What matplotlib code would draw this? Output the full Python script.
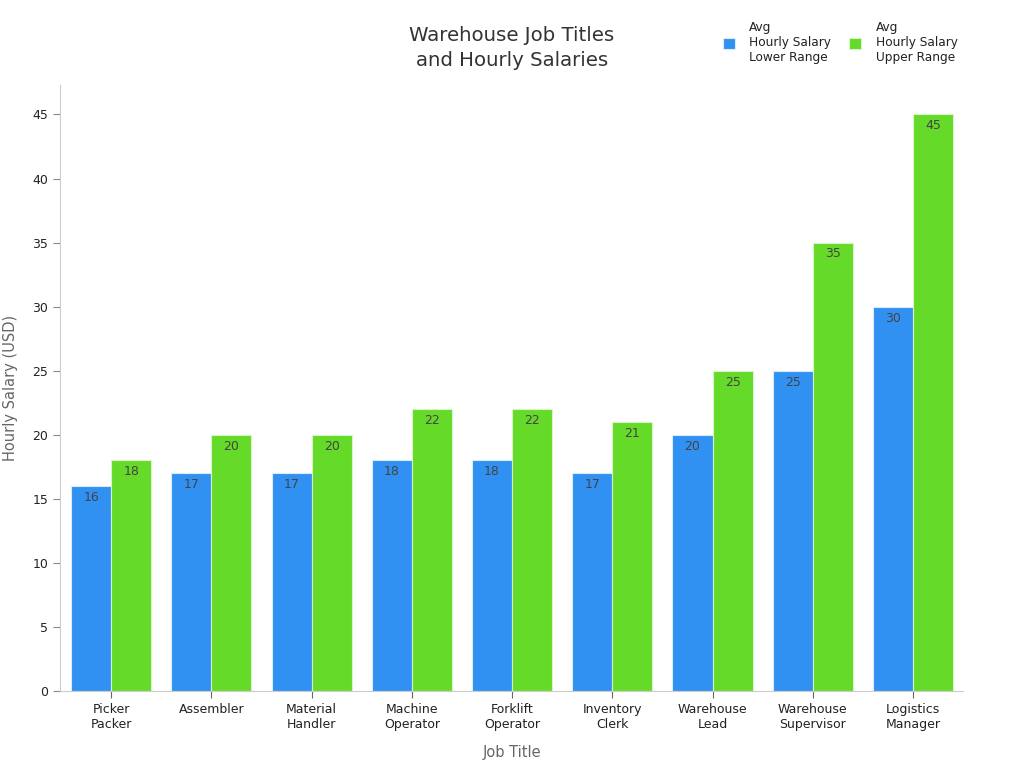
import matplotlib.pyplot as plt
import numpy as np

plt.rcParams['font.family'] = ['DejaVu Sans']

jobs = ['Picker\nPacker', 'Assembler', 'Material\nHandler', 'Machine\nOperator',
        'Forklift\nOperator', 'Inventory\nClerk', 'Warehouse\nLead',
        'Warehouse\nSupervisor', 'Logistics\nManager']
lower = [16, 17, 17, 18, 18, 17, 20, 25, 30]
upper = [18, 20, 20, 22, 22, 21, 25, 35, 45]
yticks = [0, 5, 10, 15, 20, 25, 30, 35, 40, 45]

blue = '#3091F2'
green = '#66DA28'

fig = plt.figure(figsize=(10.24, 7.68), dpi=100)
ax = fig.add_axes([0.0586, 0.1003, 0.882, 0.789])

x = np.arange(len(jobs))
w = 0.4
b1 = ax.bar(x - w / 2, lower, w, color=blue, edgecolor='#d8ecfa', linewidth=0.8,
            label='Avg\nHourly Salary\nLower Range')
b2 = ax.bar(x + w / 2, upper, w, color=green, edgecolor='#d8f5c8', linewidth=0.8,
            label='Avg\nHourly Salary\nUpper Range')

for bars, vals in [(b1, lower), (b2, upper)]:
    for r, v in zip(bars, vals):
        ax.annotate(str(v), (r.get_x() + r.get_width() / 2, v), xytext=(0, -3.5),
                    textcoords='offset points', ha='center', va='top',
                    fontsize=9, color='#444444')

ax.set_xlim(-0.51, 8.5)
ax.set_ylim(0, 47.3)
ax.set_xticks(x)
ax.set_xticklabels(jobs, fontsize=9, color='#222222')
ax.set_yticks(yticks)
ax.tick_params(axis='y', labelsize=9, labelcolor='#222222', color='#888888', length=5)
ax.tick_params(axis='x', color='#666666', length=5)

for s in ['top', 'right']:
    ax.spines[s].set_visible(False)
ax.spines['left'].set_color('#cccccc')
ax.spines['bottom'].set_color('#cccccc')

ax.set_xlabel('Job Title', fontsize=10.5, color='#666666', labelpad=10)
ax.set_ylabel('Hourly Salary (USD)', fontsize=10.5, color='#666666', labelpad=10)

fig.text(0.5, 0.937, 'Warehouse Job Titles\nand Hourly Salaries', ha='center', va='center',
         fontsize=14.2, color='#333333', linespacing=1.4)

leg = fig.legend(handles=[b1, b2], loc='upper right', bbox_to_anchor=(0.946, 0.987), ncol=2,
                 frameon=False, fontsize=8.7, handlelength=1, handleheight=1,
                 columnspacing=1.5, handletextpad=1.2)
for t in leg.get_texts():
    t.set_color('#222222')

fig.savefig('out.png', dpi=100)
